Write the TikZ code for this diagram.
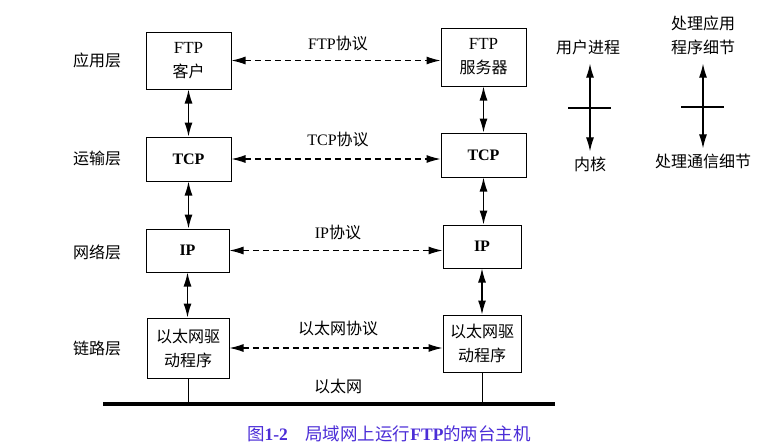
\documentclass[tikz,border=0pt]{standalone}
\usepackage{fontspec}
\setmainfont{Liberation Serif}
\newfontfamily\cjk{Noto Sans CJK SC}
\usetikzlibrary{arrows.meta}
\definecolor{capblue}{RGB}{75,45,215}

\begin{document}
\begin{tikzpicture}[x=1pt,y=-1pt,
  every node/.style={font=\fontsize{16}{24}\selectfont, align=center, inner sep=0pt},
  layer/.style={draw, line width=1pt},
  peer/.style={dash pattern=on 6pt off 4pt, line width=1.1pt,
    {Latex[length=14pt,width=8pt]}-{Latex[length=14pt,width=8pt]}},
  stack/.style={line width=1.2pt,
    {Latex[length=14pt,width=8pt]}-{Latex[length=14pt,width=8pt]}}]
  \useasboundingbox (0,0) rectangle (775,445);
  % layer names
  \node (lapp) at (97,60)  {\cjk 应用层};
  \node (ltra) at (97,158) {\cjk 运输层};
  \node (lnet) at (97,252) {\cjk 网络层};
  \node (llnk) at (97,348) {\cjk 链路层};
  % client host
  \node[layer, minimum width=85pt, minimum height=57pt] (ftpc) at (188.5,60.5) {{\fontsize{17}{24}\selectfont FTP}\\{\cjk 客户}};
  \node[layer, minimum width=85pt, minimum height=44pt] (tcpc) at (188.5,159) {\bfseries TCP};
  \node[layer, minimum width=83pt, minimum height=43pt] (ipc) at (187.5,250.5) {\bfseries IP};
  \node[layer, minimum width=82pt, minimum height=60pt] (ethc) at (188,348) {\cjk 以太网驱\\\cjk 动程序};
  % server host
  \node[layer, minimum width=85pt, minimum height=58pt] (ftps) at (483.5,57) {{\fontsize{17}{24}\selectfont FTP}\\{\cjk 服务器}};
  \node[layer, minimum width=85pt, minimum height=44pt] (tcps) at (483.5,155) {\bfseries TCP};
  \node[layer, minimum width=78pt, minimum height=43pt] (ips) at (482,246.5) {\bfseries IP};
  \node[layer, minimum width=78pt, minimum height=57pt] (eths) at (482,343.5) {\cjk 以太网驱\\\cjk 动程序};
  % protocols
  \node (pftp) at (338,43)  {FTP{\cjk 协议}};
  \node (ptcp) at (338,139) {TCP{\cjk 协议}};
  \node (pip)  at (338,232) {IP{\cjk 协议}};
  \node (peth) at (338,328) {\cjk 以太网协议};
  \node (neth) at (338,386) {\cjk 以太网};
  \draw[peer] (ftpc) -- (ftps.west |- ftpc);
  \draw[peer] (tcpc) -- (tcps.west |- tcpc);
  \draw[peer] (ipc) -- (ips.west |- ipc);
  \draw[peer] (ethc) -- (eths.west |- ethc);
  \draw[stack] (ftpc) -- (tcpc);
  \draw[stack] (tcpc) -- (ipc.north -| tcpc);
  \draw[stack] (ipc) -- (ethc.north -| ipc);
  \draw[stack] (ftps) -- (tcps);
  \draw[stack] (tcps) -- (ips.north -| tcps);
  \draw[stack] (ips) -- (eths);
  % ethernet cable
  \coordinate (wl) at (103,404);
  \coordinate (wr) at (555,404);
  \draw[line width=3.2pt] (wl) -- (wr);
  \draw[line width=1pt] (ethc) -- (ethc |- wl);
  \draw[line width=1pt] (eths) -- (eths |- wl);
  % user/kernel legend
  \node (user) at (588,47)  {\cjk 用户进程};
  \node (kern) at (590,164) {\cjk 内核};
  \node (appd) at (703,35)  {\cjk 处理应用\\\cjk 程序细节};
  \node (comd) at (703,161) {\cjk 处理通信细节};
  \draw[stack] ([yshift=-9pt]user.south -| kern) -- ([yshift=5pt]kern.north);
  \draw[stack] ([yshift=-9pt]appd.south) -- ([yshift=5pt]comd.north);
  \draw[line width=1.2pt] (568,108) -- (611,108);
  \draw[line width=1.2pt] (681,107) -- (724,107);
  % caption
  \node[text=capblue, font=\fontsize{17.5}{24}\selectfont] (cap) at (389,434) {{\cjk 图}\textbf{1-2}\hspace{1em}{\cjk 局域网上运行}\textbf{FTP}{\cjk 的两台主机}};
\end{tikzpicture}
\end{document}
